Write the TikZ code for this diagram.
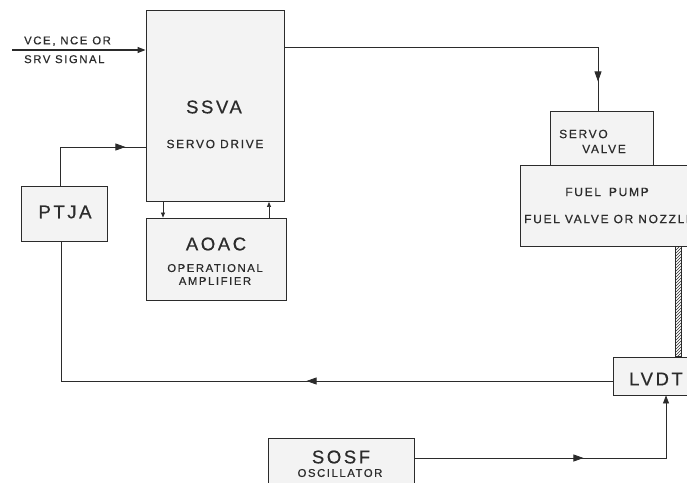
\documentclass[tikz,border=0pt]{standalone}
\usepackage{fontspec}
\setmainfont{Liberation Sans}
\newfontfamily\lett[LetterSpace=14,FakeBold=0.5]{Liberation Sans}
\usetikzlibrary{arrows.meta,positioning,calc,patterns,decorations.markings}
\definecolor{ink}{HTML}{2B2B2B}
\definecolor{paper}{HTML}{F3F3F3}
\tikzset{
  blk/.style={draw=ink,line width=0.9pt,fill=paper,inner sep=0pt},
  sig/.style={draw=ink,line width=0.7pt},
  tip/.style={-{Triangle[length=8pt,width=6pt]}},
  stip/.style={-{Triangle[length=5pt,width=4pt]}},
  midtip/.style={decoration={markings,mark=at position #1 with {\arrow{Triangle[length=10pt,width=7pt]}}},postaction={decorate}},
  bigtxt/.style={font=\lett\fontsize{18.5}{19}\selectfont,text=ink,inner sep=0pt},
  midtxt/.style={font=\lett\fontsize{12}{14}\selectfont,text=ink,inner sep=0pt},
  smtxt/.style={font=\lett\fontsize{11.3}{13}\selectfont,text=ink,inner sep=0pt,align=center},
}
\begin{document}
\begin{tikzpicture}[x=1pt,y=-1pt]
  \clip (0,0) rectangle (687,482);
  \fill[white] (0,0) rectangle (687,482);
  % blocks
  \node[blk,minimum width=138pt,minimum height=191pt] (ssva) at (215,106) {};
  \node[bigtxt] (ssvaname) at (214,107) {SSVA};
  \node[midtxt] (ssvasub) at (215,144) {SERVO DRIVE};
  \node[blk,minimum width=86pt,minimum height=55pt] (ptja) at (64,213.5) {};
  \node[bigtxt] (ptjaname) at (65,212) {PTJA};
  \node[blk,minimum width=140pt,minimum height=82pt] (aoac) at (216,259) {};
  \node[bigtxt] (aoacname) at (216,244) {AOAC};
  \node[smtxt] (aoacsub) at (215,274.5) {OPERATIONAL\\AMPLIFIER};
  \node[blk,minimum width=103pt,minimum height=54pt] (valve) at (601.5,138) {};
  \node[midtxt,anchor=west] (valvea) at (559,134) {SERVO};
  \node[midtxt,anchor=west] (valveb) at (582,149) {VALVE};
  \node[blk,minimum width=180pt,minimum height=81pt] (fuel) at (610,205.5) {};
  \node[midtxt] (fuelname) at (607,192) {FUEL\hspace{8pt}PUMP};
  \node[midtxt,anchor=west] (fuelsub) at (524,219) {FUEL VALVE OR NOZZLE};
  \node[blk,minimum width=84pt,minimum height=38pt] (lvdt) at (655,376) {};
  \node[bigtxt] (lvdtname) at (656,379) {LVDT};
  \node[blk,minimum width=146pt,minimum height=58pt] (sosf) at (341,467) {};
  \node[bigtxt] (sosfname) at (341,457) {SOSF};
  \node[smtxt] (sosfsub) at (340,473) {OSCILLATOR};
  % input signal
  \coordinate (in) at (12,50);
  \node[smtxt,anchor=south west] (inlabela) at (24,46) {VCE\,, NCE\hspace{5pt}OR};
  \node[smtxt,anchor=north west] (inlabelb) at (24,55) {SRV SIGNAL};
  \draw[sig,line width=1.1pt,tip] (in) -- (ssva.west |- in);
  % connections
  \coordinate (pj) at (60,147);
  \coordinate (out) at (598,47);
  \coordinate (fb) at (61,381);
  \coordinate (osc) at (666,458);
  \draw[sig,midtip=104pt] (ptja.north -| pj) |- (ssva.west |- pj);
  \draw[sig,stip] (ssva.south -| 163,0) -- (aoac.north -| 163,0);
  \draw[sig,stip] (aoac.north -| 269,0) -- (ssva.south -| 269,0);
  \draw[sig,midtip=348pt] (ssva.east |- out) -| (valve.north -| out);
  \draw[sig,midtip=306pt] (lvdt.west |- fb) -| (ptja.south -| fb);
  \draw[sig,midtip=169pt,tip] (sosf.east |- osc) -| (lvdt.south -| osc);
  % mechanical link
  \draw[draw=ink,line width=0.8pt,pattern=north east lines,pattern color=ink]
    (fuel.south -| 675,0) rectangle (lvdt.north -| 681,0);
\end{tikzpicture}
\end{document}
